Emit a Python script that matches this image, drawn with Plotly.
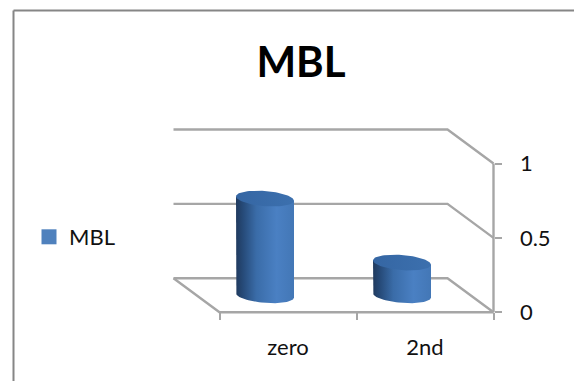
import numpy as np
import plotly.graph_objects as go

# Chart data
title = "MBL"
series_name = "MBL"
categories = ["zero", "2nd"]
values = [0.65, 0.22]
value_ticks = [0, 0.5, 1]
value_tick_labels = ["0", "0.5", "1"]

W, H = 574, 381
# Pixel placement of the front plane of the oblique box
FRONT_ZERO_Y = 312.3
UNIT_PX = 148.8
SLOT_PX = 137.0
FIRST_CAT_X = 288.0
# Depth of the box, expressed in data units
DEPTH_X = -46.0 / SLOT_PX
DEPTH_Y = 34.0 / UNIT_PX

x_range = [-FIRST_CAT_X / SLOT_PX, (W - FIRST_CAT_X) / SLOT_PX]
y_range = [-(H - FRONT_ZERO_Y) / UNIT_PX, FRONT_ZERO_Y / UNIT_PX]

GRID = "#a6a6a6"
TEXT = "#111111"
FONT = "Lato, 'Open Sans', sans-serif"


def oblique(x, y, depth):
    """Shift a front-plane point back along the box depth (0 front, 1 back)."""
    return x + DEPTH_X * depth, y + DEPTH_Y * depth


fig = go.Figure()


def add_line(points):
    xs, ys = zip(*points)
    fig.add_trace(go.Scatter(x=xs, y=ys, mode="lines", showlegend=False, hoverinfo="skip",
                             line=dict(color=GRID, width=2.4)))


left, right = -0.5, 1.5

# Back wall gridlines and the slanted returns on the right wall
for v in value_ticks:
    add_line([oblique(left, v, 1), oblique(right, v, 1), oblique(right, v, 0)])
# Floor front and left edges, and the value axis
add_line([oblique(left, 0, 1), oblique(left, 0, 0), oblique(right, 0, 0)])
add_line([(right, 0), (right, 1)])

# Cylinders
A = 29.0 / SLOT_PX      # half width
B = 7.6 / UNIT_PX       # half height of the end ellipses
TILT = 2.2 / UNIT_PX    # the right end of each ellipse sits lower than the left


def ellipse(cx, cy, t):
    return cx + A * np.cos(t), cy + B * np.sin(t) - TILT * np.cos(t)


body_scale = [[0, "#203a5e"], [0.12, "#264a78"], [0.35, "#3a6ca8"],
              [0.7, "#4a80c3"], [1, "#4377b6"]]
cap_scale = [[0, "#3566a3"], [1, "#3c70ae"]]

for i, v in enumerate(values):
    cx, base = oblique(i, 0, 0.5)
    top = base + v
    # Side of the cylinder: down the left edge, around the base, up the right edge
    t = np.linspace(np.pi, 2 * np.pi, 40)
    bx, by = ellipse(cx, base, t)
    tx, ty = ellipse(cx, top, t[::-1])
    fig.add_trace(go.Scatter(
        x=np.r_[tx[-1], bx, tx[0]], y=np.r_[ty[-1], by, ty[0]],
        mode="lines", fill="toself", line=dict(width=0), showlegend=False, hoverinfo="skip",
        fillgradient=dict(type="horizontal", colorscale=body_scale)))
    # Top cap
    t = np.linspace(0, 2 * np.pi, 80)
    cap_x, cap_y = ellipse(cx, top, t)
    fig.add_trace(go.Scatter(
        x=cap_x, y=cap_y, mode="lines", fill="toself", line=dict(width=0),
        showlegend=False, hoverinfo="skip",
        fillgradient=dict(type="horizontal", colorscale=cap_scale)))

# Legend entry
fig.add_trace(go.Scatter(x=[None], y=[None], mode="markers", name=series_name,
                         marker=dict(symbol="square", size=15, color="#4f81bd")))

fig.update_layout(
    width=W, height=H,
    margin=dict(l=0, r=0, t=0, b=0),
    paper_bgcolor="white", plot_bgcolor="white",
    font=dict(family=FONT, size=22, color=TEXT),
    title=dict(text=f"<b>{title}</b>", x=301 / W, xanchor="center", y=1 - 62 / H, yanchor="middle",
               font=dict(family=FONT, size=42, color="#000000")),
    showlegend=True,
    legend=dict(x=29 / W, y=1 - 237 / H, xanchor="left", yanchor="middle",
                bgcolor="rgba(0,0,0,0)", font=dict(size=22), itemwidth=30),
    xaxis=dict(range=x_range, showgrid=False, zeroline=False, showline=False,
               anchor="free", position=1 - (H - (H - FRONT_ZERO_Y)) / H,
               tickmode="array", tickvals=[0, 1], ticktext=categories, ticks="",
               ticklabelstandoff=20, fixedrange=True,
               minor=dict(tickmode="array", tickvals=[-0.5, 0.5, 1.5], ticks="outside",
                          ticklen=7, tickwidth=2, tickcolor=GRID, showgrid=False)),
    yaxis=dict(range=y_range, showgrid=False, zeroline=False, showline=False,
               side="right", anchor="free", position=(FIRST_CAT_X + 1.5 * SLOT_PX) / W,
               tickmode="array", tickvals=value_ticks, ticktext=value_tick_labels,
               ticks="outside", ticklen=7, tickwidth=2, tickcolor=GRID,
               ticklabelstandoff=14, fixedrange=True),
    # Chart frame: only the top and left edges fall inside the canvas
    shapes=[dict(type="line", xref="paper", yref="paper", x0=13.5 / W, x1=1, y0=1 - 10.5 / H, y1=1 - 10.5 / H,
                 line=dict(color="#868686", width=2)),
            dict(type="line", xref="paper", yref="paper", x0=13.5 / W, x1=13.5 / W, y0=0, y1=1 - 10.5 / H,
                 line=dict(color="#868686", width=2))],
)

fig.write_html("out.html", config=dict(displayModeBar=False))
